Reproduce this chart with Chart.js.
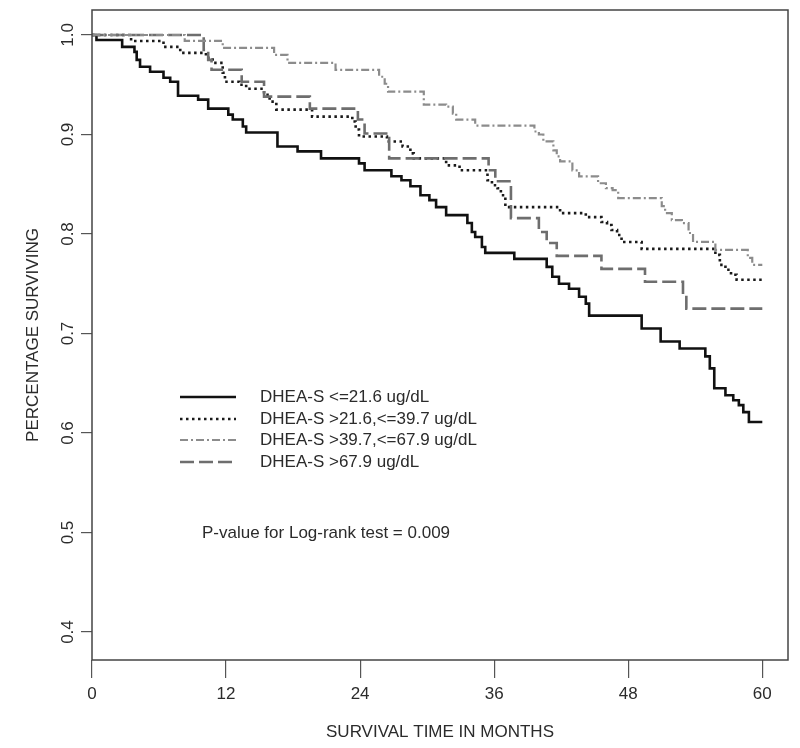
<!DOCTYPE html>
<html>
<head>
<meta charset="utf-8">
<title>Survival by DHEA-S</title>
<script src="https://cdn.jsdelivr.net/npm/chart.js@4.4.1/dist/chart.umd.min.js"></script>
<style>
    html, body { margin: 0; padding: 0; background: #fff; }
    #wrap { width: 800px; height: 748px; }
</style>
</head>
<body>
<div id="wrap"><canvas id="kmChart" width="800" height="748"></canvas></div>
<script>
// tick labels
const xTicks = [0, 12, 24, 36, 48, 60];
const yTicks = [0.4, 0.5, 0.6, 0.7, 0.8, 0.9, 1.0];

const groupLabels = [
    'DHEA-S <=21.6 ug/dL',
    'DHEA-S >21.6,<=39.7 ug/dL',
    'DHEA-S >39.7,<=67.9 ug/dL',
    'DHEA-S >67.9 ug/dL'
];

// group 1 : <=21.6 (solid black)
const g1Time = [0, 0.4, 2.7, 3.8, 4.0, 4.3, 5.2, 6.4, 7.0, 7.7, 9.5, 10.4, 12.2, 12.6, 13.5, 13.8, 16.6, 18.4, 20.5, 23.9, 24.4, 26.8, 27.7, 28.5, 29.4, 30.2, 30.8, 31.7, 33.6, 34.0, 34.3, 34.9, 35.2, 37.8, 40.7, 41.2, 41.8, 42.7, 43.6, 44.2, 44.5, 49.2, 50.9, 52.6, 54.9, 55.3, 55.7, 56.7, 57.4, 57.9, 58.3, 58.8, 60];
const g1Surv = [1, 0.995, 0.988, 0.983, 0.975, 0.968, 0.963, 0.957, 0.953, 0.939, 0.935, 0.926, 0.920, 0.915, 0.908, 0.902, 0.888, 0.883, 0.876, 0.871, 0.864, 0.858, 0.854, 0.848, 0.839, 0.834, 0.827, 0.819, 0.811, 0.802, 0.797, 0.787, 0.781, 0.775, 0.767, 0.757, 0.750, 0.745, 0.737, 0.730, 0.718, 0.705, 0.692, 0.685, 0.677, 0.665, 0.645, 0.638, 0.633, 0.628, 0.621, 0.611, 0.611];

// group 2 : >21.6,<=39.7 (dotted black)
const g2Time = [0, 3.5, 6.4, 7.9, 10.2, 10.8, 11.7, 11.9, 13.2, 13.8, 15.4, 15.9, 16.5, 19.7, 23.3, 23.6, 23.9, 26.4, 27.8, 28.5, 28.8, 31.7, 32.9, 35.4, 35.8, 36.3, 36.6, 37.0, 41.9, 44.2, 45.6, 46.1, 46.5, 47.0, 47.4, 49.2, 55.8, 56.2, 56.7, 57.2, 57.7, 60];
const g2Surv = [1, 0.994, 0.988, 0.982, 0.977, 0.972, 0.962, 0.953, 0.950, 0.946, 0.940, 0.933, 0.925, 0.918, 0.913, 0.905, 0.898, 0.893, 0.888, 0.881, 0.876, 0.869, 0.864, 0.854, 0.849, 0.846, 0.839, 0.827, 0.821, 0.817, 0.812, 0.809, 0.804, 0.799, 0.792, 0.785, 0.779, 0.769, 0.764, 0.759, 0.754, 0.754];

// group 3 : >39.7,<=67.9 (grey dash-dot)
const g3Time = [0, 8.3, 11.7, 16.3, 17.5, 21.8, 25.7, 26.2, 26.5, 29.7, 31.7, 32.3, 32.6, 34.3, 39.6, 40.0, 40.4, 41.3, 41.6, 41.9, 43.0, 43.6, 45.3, 46.0, 46.6, 47.1, 51.0, 51.3, 51.9, 52.8, 53.4, 53.8, 55.8, 58.7, 59.1, 60];
const g3Surv = [1, 0.994, 0.987, 0.980, 0.972, 0.965, 0.958, 0.951, 0.943, 0.930, 0.928, 0.921, 0.915, 0.909, 0.903, 0.900, 0.893, 0.884, 0.878, 0.873, 0.864, 0.858, 0.851, 0.846, 0.844, 0.836, 0.828, 0.821, 0.814, 0.811, 0.801, 0.792, 0.784, 0.776, 0.769, 0.769];

// group 4 : >67.9 (grey long dash)
const g4Time = [0, 10.0, 10.4, 10.7, 13.4, 15.4, 19.5, 23.8, 24.4, 26.6, 35.5, 36.1, 37.5, 40.0, 40.7, 41.6, 45.6, 49.5, 52.9, 53.2, 60];
const g4Surv = [1, 0.985, 0.975, 0.965, 0.953, 0.938, 0.926, 0.915, 0.901, 0.876, 0.864, 0.853, 0.816, 0.802, 0.791, 0.778, 0.765, 0.752, 0.739, 0.725, 0.725];

const pValueText = 'P-value for Log-rank test = 0.009';

const fontFamily = '"Liberation Sans", Arial, Helvetica, sans-serif';
const textColor = '#2b2b2b';

function toPoints(times, surv) {
    return times.map((t, i) => ({x: t, y: surv[i]}));
}

const styles = [
    {color: '#111111', width: 2.6, dash: []},
    {color: '#1a1a1a', width: 2.6, dash: [2.5, 3.5]},
    {color: '#8c8c8c', width: 2.2, dash: [8, 3, 2, 3]},
    {color: '#6e6e6e', width: 2.6, dash: [14, 5]}
];

const series = [
    toPoints(g1Time, g1Surv),
    toPoints(g2Time, g2Surv),
    toPoints(g3Time, g3Surv),
    toPoints(g4Time, g4Surv)
];

// draw order: greys first, black on top
const order = [2, 3, 1, 0];

const datasets = order.map(i => ({
    label: groupLabels[i],
    data: series[i],
    borderColor: styles[i].color,
    borderWidth: styles[i].width,
    borderDash: styles[i].dash,
    borderCapStyle: 'butt',
    stepped: 'before',
    pointRadius: 0,
    fill: false,
    legendIndex: i
}));

// box, rotated y labels, legend and p-value text
const kmDecor = {
    id: 'kmDecor',
    afterDraw(chart) {
        const ctx = chart.ctx;
        const area = chart.chartArea;
        const yScale = chart.scales.y;

        ctx.save();
        ctx.strokeStyle = '#444';
        ctx.lineWidth = 1.5;
        ctx.setLineDash([]);
        ctx.strokeRect(area.left, area.top, area.right - area.left, area.bottom - area.top);

        // y tick labels, written vertically like the original
        ctx.fillStyle = textColor;
        ctx.font = '17px ' + fontFamily;
        ctx.textAlign = 'center';
        ctx.textBaseline = 'middle';
        yTicks.forEach(v => {
            const py = yScale.getPixelForValue(v);
            ctx.save();
            ctx.translate(68, py);
            ctx.rotate(-Math.PI / 2);
            ctx.fillText(v.toFixed(1), 0, 0);
            ctx.restore();
        });

        // legend
        const rowY = [397, 419, 440, 462];
        groupLabels.forEach((label, i) => {
            const st = styles[i];
            ctx.beginPath();
            ctx.strokeStyle = st.color;
            ctx.lineWidth = st.width;
            ctx.lineCap = 'butt';
            ctx.setLineDash(st.dash);
            ctx.moveTo(180, rowY[i]);
            ctx.lineTo(236, rowY[i]);
            ctx.stroke();
            ctx.setLineDash([]);
            ctx.fillStyle = textColor;
            ctx.textAlign = 'left';
            ctx.fillText(label, 260, rowY[i]);
        });

        ctx.fillText(pValueText, 202, 533);
        ctx.restore();
    }
};

const ctx = document.getElementById('kmChart').getContext('2d');
new Chart(ctx, {
    type: 'line',
    data: {datasets: datasets},
    options: {
        responsive: false,
        animation: false,
        devicePixelRatio: 1,
        layout: {padding: {top: 10, right: 12, left: 0, bottom: 0}},
        plugins: {
            legend: {display: false},
            tooltip: {enabled: false}
        },
        scales: {
            x: {
                type: 'linear',
                min: 0,
                max: 62.3,
                afterBuildTicks: scale => { scale.ticks = xTicks.map(v => ({value: v})); },
                afterFit: scale => { scale.height = 88; },
                border: {display: false},
                grid: {drawOnChartArea: false, drawTicks: true, tickLength: 18, color: '#555', lineWidth: 1.2},
                ticks: {color: textColor, font: {family: fontFamily, size: 17}, padding: 6, maxRotation: 0},
                title: {
                    display: true,
                    text: 'SURVIVAL TIME IN MONTHS',
                    color: textColor,
                    font: {family: fontFamily, size: 17},
                    padding: {top: 0, bottom: 5}
                }
            },
            y: {
                type: 'linear',
                min: 0.3719,
                max: 1.0251,
                afterBuildTicks: scale => { scale.ticks = yTicks.map(v => ({value: v})); },
                afterFit: scale => { scale.width = 92; },
                border: {display: false},
                grid: {drawOnChartArea: false, drawTicks: true, tickLength: 11, color: '#555', lineWidth: 1.2},
                ticks: {display: false},
                title: {
                    display: true,
                    text: 'PERCENTAGE SURVIVING',
                    color: textColor,
                    font: {family: fontFamily, size: 17},
                    padding: {top: 23, bottom: 0}
                }
            }
        }
    },
    plugins: [kmDecor]
});
</script>
</body>
</html>
